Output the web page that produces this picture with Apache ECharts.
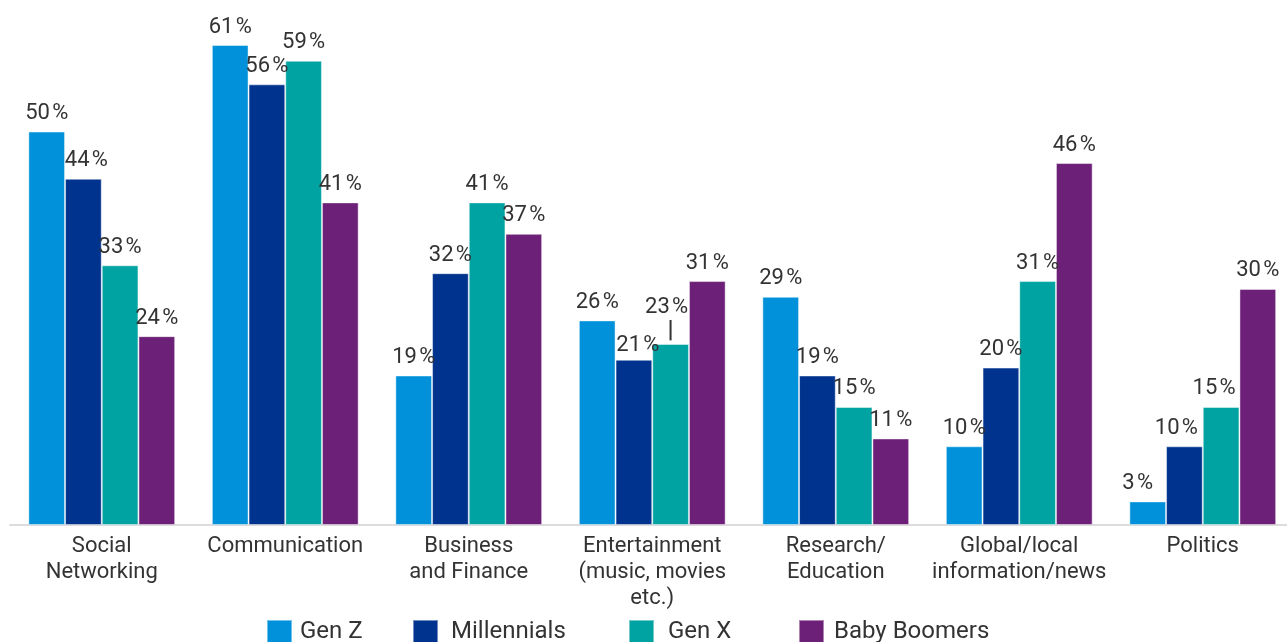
<!DOCTYPE html>
<html>
<head>
<meta charset="utf-8">
<script src="https://cdn.jsdelivr.net/npm/echarts@6/dist/echarts.min.js"></script>
<style>
  html, body { margin: 0; padding: 0; background: #fff; }
  #chart { width: 1287px; height: 642px; }
</style>
</head>
<body>
<div id="chart"></div>
<script>
// Share of respondents by topic and generation (%)
const categories = [
  'Social\nNetworking',
  'Communication',
  'Business\nand Finance',
  'Entertainment\n(music, movies\netc.)',
  'Research/\nEducation',
  'Global/local\ninformation/news',
  'Politics'
];
const seriesNames = ['Gen Z', 'Millennials', 'Gen X', 'Baby Boomers'];
const genZ        = [50, 61, 19, 26, 29, 10, 3];
const millennials = [44, 56, 32, 21, 19, 20, 10];
const genX        = [33, 59, 41, 23, 15, 31, 15];
const boomers     = [24, 41, 37, 31, 11, 46, 30];

const colors = ['#0091DA', '#00338D', '#00A3A1', '#6D2077'];
const FONT = 'Roboto, "Liberation Sans", sans-serif';
const TEXT = '#333333';
const PCT = '\u200A%';

// A few labels sit slightly off-centre to avoid crowding
const labelTweaks = {
  'Gen Z':       { 6: { offset: [-10, 0] } },
  'Millennials': { 0: { offset: [3, 0] }, 3: { offset: [4, 4] }, 6: { offset: [-8, 0] } },
  'Gen X':       { 3: { leader: true, offset: [-4, 6] }, 6: { offset: [-7, 0] } },
  'Baby Boomers': {}
};

function buildData(name, values) {
  const tweaks = labelTweaks[name] || {};
  return values.map((v, i) => {
    const t = tweaks[i];
    if (!t) return v;
    const label = { offset: t.offset };
    if (t.leader) {
      label.formatter = '{v|{c}' + PCT + '}\n{l||}';
      label.rich = {
        v: { fontSize: 22, fontFamily: FONT, color: TEXT, lineHeight: 24 },
        l: { fontSize: 24, fontFamily: FONT, fontWeight: 'bold', color: TEXT, lineHeight: 24, padding: [0, 0, 0, 8] }
      };
    }
    return { value: v, label };
  });
}

const allValues = [genZ, millennials, genX, boomers];

const series = seriesNames.map((name, k) => ({
  name,
  type: 'bar',
  data: buildData(name, allValues[k]),
  barGap: '0%',
  barCategoryGap: '20%',
  itemStyle: {
    color: colors[k],
    borderColor: 'rgba(255,255,255,0.45)',
    borderWidth: 1
  },
  label: {
    show: true,
    position: 'top',
    distance: 7,
    formatter: '{c}' + PCT,
    fontFamily: FONT,
    fontSize: 22,
    color: TEXT
  },
  emphasis: { disabled: true }
}));

// One legend per item so each entry sits where it belongs
const legendLefts = [266, 412, 628, 798];
const legendTextGaps = [3, 8, 9, 5];
const legends = seriesNames.map((name, k) => ({
  data: [name],
  left: legendLefts[k],
  top: 619,
  padding: 0,
  itemWidth: 25,
  itemHeight: 23,
  itemGap: 0,
  icon: 'rect',
  textStyle: { fontFamily: FONT, fontSize: 24, color: TEXT, padding: [0, 0, 0, legendTextGaps[k]] },
  selectedMode: false
}));

const chart = echarts.init(document.getElementById('chart'), null, { renderer: 'canvas' });
chart.setOption({
  animation: false,
  backgroundColor: '#ffffff',
  color: colors,
  legend: legends,
  grid: { left: 10, width: 1284.5, top: 45, bottom: 117, containLabel: false, outerBoundsMode: 'none' },
  xAxis: {
    type: 'category',
    data: categories,
    axisTick: { show: false },
    axisLine: { show: true, lineStyle: { color: '#dcdcdc', width: 2 } },
    axisLabel: {
      interval: 0,
      margin: 8,
      fontFamily: FONT,
      fontSize: 22,
      lineHeight: 26,
      color: TEXT,
      align: 'center'
    }
  },
  yAxis: {
    type: 'value',
    min: 0,
    max: 61,
    show: false,
    splitLine: { show: false }
  },
  series
});
</script>
</body>
</html>
